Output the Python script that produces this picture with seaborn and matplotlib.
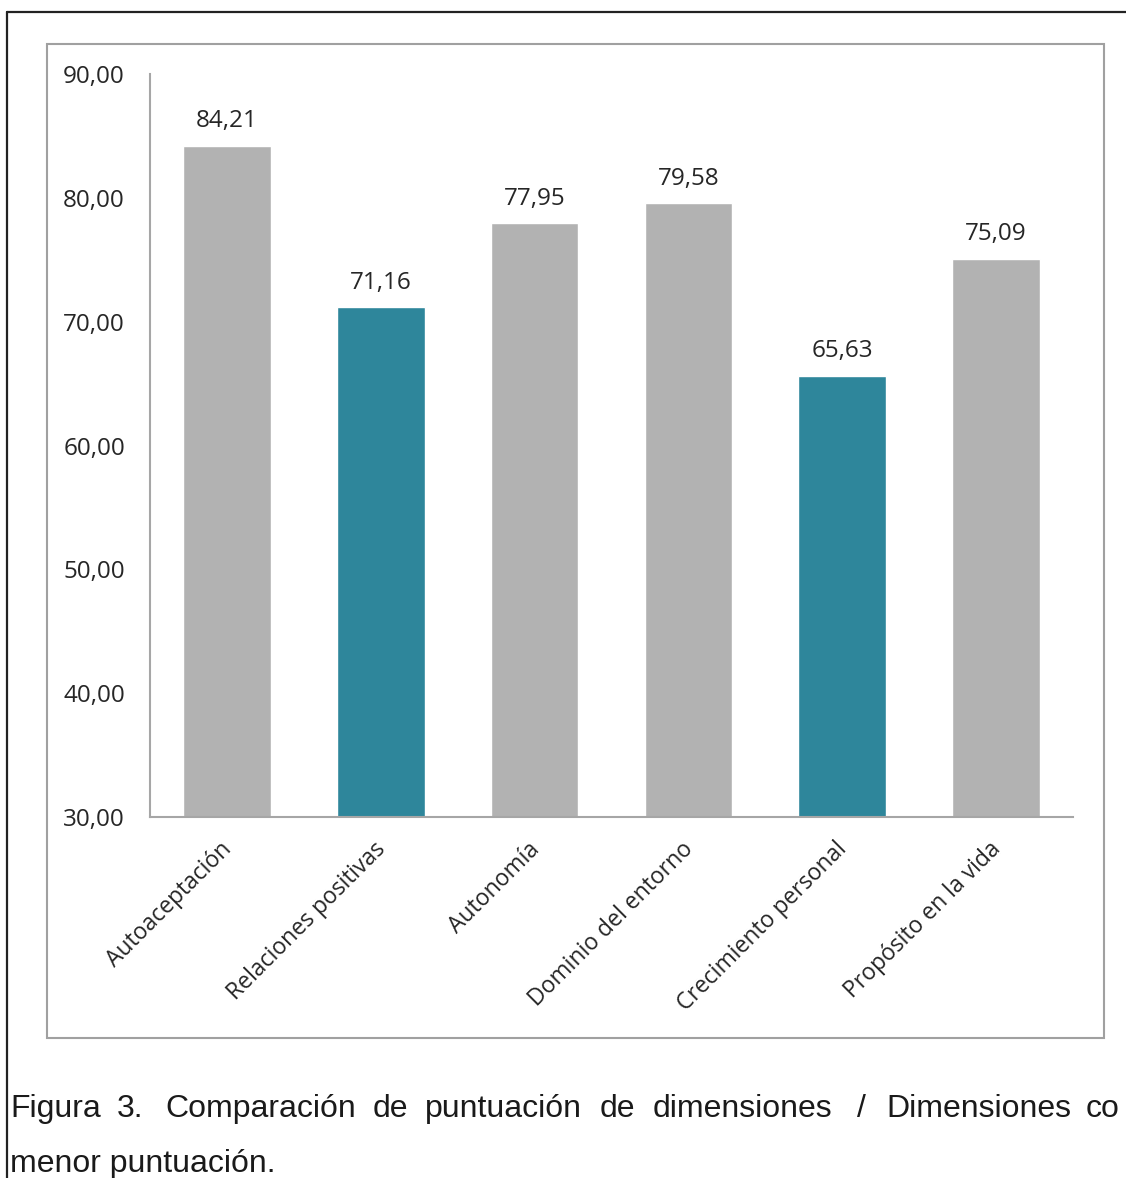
import matplotlib
matplotlib.use("Agg")
import matplotlib.pyplot as plt
import matplotlib.font_manager as fm
import matplotlib.transforms as mtransforms
from matplotlib.lines import Line2D
from matplotlib.patches import Rectangle
import seaborn as sns
import pandas as pd

categories = ["Autoaceptación", "Relaciones positivas", "Autonomía",
              "Dominio del entorno", "Crecimiento personal", "Propósito en la vida"]
scores = [84.21, 71.16, 77.95, 79.58, 65.63, 75.09]
highlight = [False, True, False, False, True, False]
y_ticks = [30, 40, 50, 60, 70, 80, 90]
caption_line1 = ["Figura", "3.", "Comparación", "de", "puntuación", "de",
                 "dimensiones", "/", "Dimensiones", "co"]
caption_line2 = "menor puntuación."

GRAY = "#B2B2B2"
TEAL = "#2E869B"
TEXT = "#262626"

sns.set_theme(style="white")
names = {f.name for f in fm.fontManager.ttflist}
chart_font = "Open Sans" if "Open Sans" in names else "DejaVu Sans"
cap_font = "Liberation Sans"
plt.rcParams["font.family"] = [chart_font, "DejaVu Sans"]

df = pd.DataFrame({"cat": categories, "score": scores,
                   "grp": ["low" if h else "base" for h in highlight]})

fig = plt.figure(figsize=(11.26, 11.78), dpi=100)
ax = fig.add_axes([150 / 1126, 1 - 817 / 1178, 923 / 1126, (817 - 74) / 1178])

sns.barplot(data=df, x="cat", y="score", hue="grp",
            palette={"base": GRAY, "low": TEAL}, dodge=False, saturation=1,
            width=0.57, legend=False, ax=ax)

ax.set_ylim(30, 90)
ax.set_xlim(-0.5, len(categories) - 0.5)
ax.set_yticks(y_ticks)
ax.set_yticklabels([f"{v:.2f}".replace(".", ",") for v in y_ticks],
                   fontsize=17.5, color=TEXT)
ax.tick_params(axis="y", length=0, pad=18)
ax.tick_params(axis="x", length=0, pad=6)
ax.set_xticks(range(len(categories)))
ax.set_xticklabels(categories, rotation=45, ha="right", va="top",
                   rotation_mode="anchor", fontsize=16.5, color=TEXT)
shift = mtransforms.ScaledTranslation(-0.07, -0.12, fig.dpi_scale_trans)
for lbl in ax.get_xticklabels():
    lbl.set_transform(lbl.get_transform() + shift)
ax.set_xlabel("")
ax.set_ylabel("")
for side in ["top", "right"]:
    ax.spines[side].set_visible(False)
for side in ["left", "bottom"]:
    ax.spines[side].set_color("#A6A6A6")
    ax.spines[side].set_linewidth(1.5)

for i, v in enumerate(scores):
    ax.annotate(f"{v:.2f}".replace(".", ","), (i, v), xytext=(0, 9),
                textcoords="offset points", ha="center", va="bottom",
                fontsize=17.5, color=TEXT)

# chart frame
fig.add_artist(Rectangle((47 / 1126, 1 - 1038 / 1178), (1104 - 47) / 1126,
                         (1038 - 44) / 1178, transform=fig.transFigure,
                         fill=False, edgecolor="#A0A0A0", linewidth=1.5))
# page border
fig.add_artist(Line2D([7 / 1126, 1.0], [1 - 12 / 1178] * 2,
                      transform=fig.transFigure, color="#222222", linewidth=1.6))
fig.add_artist(Line2D([7 / 1126] * 2, [0, 1 - 12 / 1178],
                      transform=fig.transFigure, color="#222222", linewidth=1.6))

# caption, justified word by word
word_x = [10, 117, 165, 373, 425, 600, 653, 857, 886, 1086]
for w, x in zip(caption_line1, word_x):
    fig.text(x / 1126, 1 - 1117 / 1178, w, family=[cap_font, "DejaVu Sans"],
             fontsize=23, color="#1a1a1a", ha="left", va="baseline")
fig.text(10 / 1126, 1 - 1172 / 1178, caption_line2, family=[cap_font, "DejaVu Sans"],
         fontsize=23, color="#1a1a1a", ha="left", va="baseline")

fig.savefig("out.png", dpi=100)
